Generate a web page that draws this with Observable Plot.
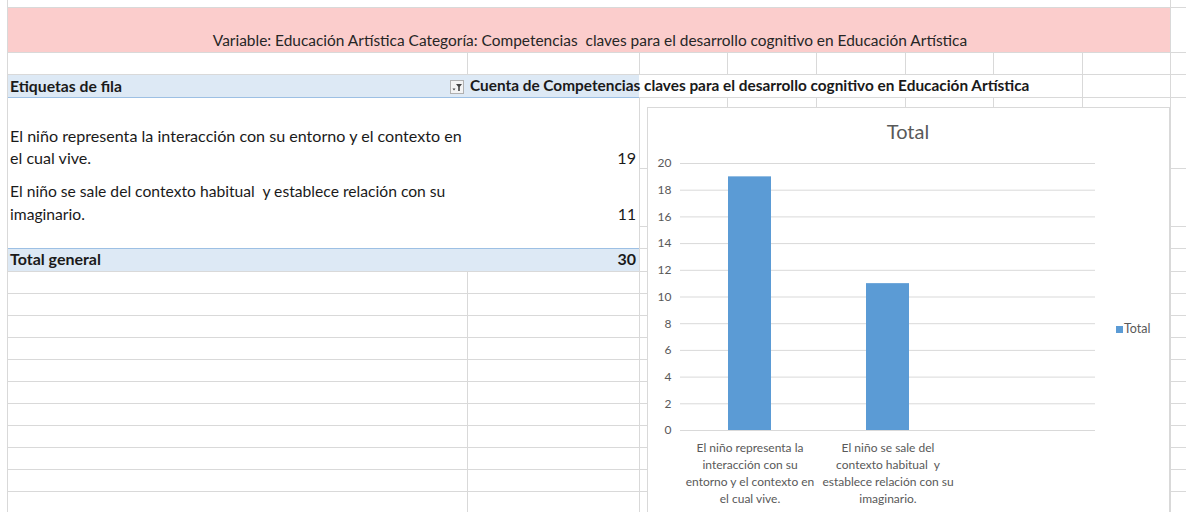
<!DOCTYPE html>
<html>
<head>
<meta charset="utf-8">
<script src="https://cdn.jsdelivr.net/npm/d3@7"></script>
<script src="https://cdn.jsdelivr.net/npm/@observablehq/plot@0.6"></script>
<style>
html, body { margin: 0; padding: 0; background: #fff; overflow: hidden; }
#sheet { position: relative; width: 1186px; height: 512px; overflow: hidden; font-family: Lato, "Open Sans", sans-serif; color: #1a1a1a; background: #fff; }
.box { position: absolute; }
.t { position: absolute; white-space: pre; line-height: 1; }
</style>
</head>
<body>
<div id="sheet"></div>
<script>
// ---- data ----
const title = "Variable: Educación Artística Categoría: Competencias  claves para el desarrollo cognitivo en Educación Artística";
const rowHeader = "Etiquetas de fila";
const valueHeader = "Cuenta de Competencias claves para el desarrollo cognitivo en Educación Artística";
const categories = [
  "El niño representa la interacción con su entorno y el contexto en el cual vive.",
  "El niño se sale del contexto habitual  y establece relación con su imaginario."
];
const rowLabelLines = [
  ["El niño representa la interacción con su entorno y el contexto en", "el cual vive."],
  ["El niño se sale del contexto habitual  y establece relación con su", "imaginario."]
];
const axisLabelLines = [
  ["El niño representa la", "interacción con su", "entorno y el contexto en", "el cual vive."],
  ["El niño se sale del", "contexto habitual  y", "establece relación con su", "imaginario."]
];
const values = [19, 11];
const totalLabel = "Total general";
const seriesName = "Total";
const chartTitle = "Total";
const yTicks = [0, 2, 4, 6, 8, 10, 12, 14, 16, 18, 20];

// ---- sheet helpers ----
const sheet = document.getElementById("sheet");
function rect(x, y, w, h, bg) {
  const d = document.createElement("div");
  d.className = "box";
  Object.assign(d.style, {left: x + "px", top: y + "px", width: w + "px", height: h + "px", background: bg});
  sheet.appendChild(d);
  return d;
}
const GRID = "#d9d9d9";
function hline(y, x0, x1, c = GRID) { rect(x0, y, x1 - x0, 1, c); }
function vline(x, y0, y1, c = GRID) { rect(x, y0, 1, y1 - y0, c); }
function text(str, o) {
  const s = document.createElement("span");
  s.className = "t";
  s.textContent = str;
  let size = o.size || 14;
  s.style.fontSize = size + "px";
  s.style.fontWeight = o.weight || 400;
  s.style.color = o.color || "#1a1a1a";
  sheet.appendChild(s);
  if (o.fit) {
    const w = s.getBoundingClientRect().width;
    size = size * o.fit / w;
    s.style.fontSize = size + "px";
  }
  const w = s.getBoundingClientRect().width;
  let left = o.x;
  if (o.anchor === "end") left = o.x - w;
  if (o.anchor === "middle") left = o.x - w / 2;
  s.style.left = left + "px";
  s.style.top = (o.y - size * 0.58) + "px";
  return s;
}

// background fills
rect(7, 8, 1163, 44, "#fbcdcc");          // pink title band
rect(7, 75, 632, 22, "#dde9f5");          // header row
rect(7, 249, 632, 22, "#dde9f5");         // total row

// grid lines
hline(7, 7, 1186);
hline(52, 7, 1186);
hline(74, 7, 1186);
hline(97, 639, 1186);
hline(97, 7, 639, "#9dc0e4");
hline(248, 7, 639, "#9dc0e4");
const lowerRows = [271, 293, 315, 337, 359, 381, 403, 425, 447, 469, 491];
for (const y of lowerRows) hline(y, 7, 1186);
for (const y of [168, 226, 248]) hline(y, 639, 1186);
vline(7, 0, 512);
vline(467, 52, 74);
vline(467, 271, 512);
vline(639, 52, 74);
vline(639, 97, 512);
for (const x of [727, 816, 905, 993]) { vline(x, 52, 74); vline(x, 97, 110); }
vline(1082, 52, 110);
vline(1170, 0, 512);

// texts
text(title, {x: 590, y: 42, anchor: "middle", fit: 755, color: "#262626"});
text(rowHeader, {x: 10, y: 87, weight: 700, fit: 112});
text(valueHeader, {x: 470, y: 87, weight: 700, fit: 560});
// filter button
const fb = document.createElement("div");
fb.className = "box";
Object.assign(fb.style, {left: "450px", top: "80px", width: "14px", height: "14px", border: "1px solid #b0b0b0", background: "#f4f4f4", boxSizing: "border-box"});
fb.innerHTML = '<svg width="12" height="12" style="display:block"><path d="M1.5 7.5 L4.5 7.5 L3 9.5 Z" fill="#444"/><path d="M5 3 L11 3 L8.8 5.8 L8.8 10 L7.2 10 L7.2 5.8 Z" fill="#444"/></svg>';
sheet.appendChild(fb);

const rowCenters = [[137, 159], [193, 216]];
rowLabelLines.forEach((lines, i) => {
  text(lines[0], {x: 10, y: rowCenters[i][0], fit: i === 0 ? 452 : 436});
  text(lines[1], {x: 10, y: rowCenters[i][1], size: parseFloat(sheet.lastChild.style.fontSize)});
  text(String(values[i]), {x: 636, y: rowCenters[i][1], anchor: "end", size: parseFloat(sheet.lastChild.style.fontSize)});
});
text(totalLabel, {x: 10, y: 260, weight: 700, fit: 91});
text(String(d3.sum(values)), {x: 636, y: 260, weight: 700, anchor: "end", size: parseFloat(sheet.lastChild.style.fontSize)});

// ---- chart ----
const chartBox = rect(647, 107, 523, 420, "#fff");
chartBox.style.border = "1px solid #d9d9d9";
chartBox.style.boxSizing = "border-box";

const data = categories.map((c, i) => ({category: c, value: values[i], label: axisLabelLines[i].join("\n")}));
const xDomain = [...categories, ""]; // empty third slot as in the spreadsheet chart

const plot = Plot.plot({
  width: 523,
  height: 405,
  marginTop: 56,
  marginRight: 75,
  marginBottom: 82,
  marginLeft: 33,
  style: {background: "none", fontFamily: "Lato, sans-serif", overflow: "visible"},
  x: {domain: xDomain, paddingInner: 0.69, paddingOuter: 0.345, axis: null},
  y: {domain: [0, 20], axis: null},
  marks: [
    Plot.gridY(yTicks, {stroke: "#d9d9d9", strokeOpacity: 1, strokeWidth: 1}),
    Plot.barY(data, {x: "category", y: "value", fill: "#5b9bd5"}),
    Plot.axisY(yTicks, {tickSize: 0, tickPadding: 9, color: "#595959", fontSize: 12, label: null}),
    Plot.text(data, {x: "category", text: "label", frameAnchor: "bottom", lineAnchor: "top", dy: 10, lineHeight: 1.4, fill: "#595959", fontSize: 12})
  ]
});
plot.style.position = "absolute";
plot.style.left = "647px";
plot.style.top = "107px";
sheet.appendChild(plot);

// chart title
text(chartTitle, {x: 908, y: 133, anchor: "middle", size: 20, color: "#595959"});
// legend
rect(1116, 326, 7, 7, "#5b9bd5");
text(seriesName, {x: 1124, y: 330, size: 12.5, color: "#595959"});
</script>
</body>
</html>
